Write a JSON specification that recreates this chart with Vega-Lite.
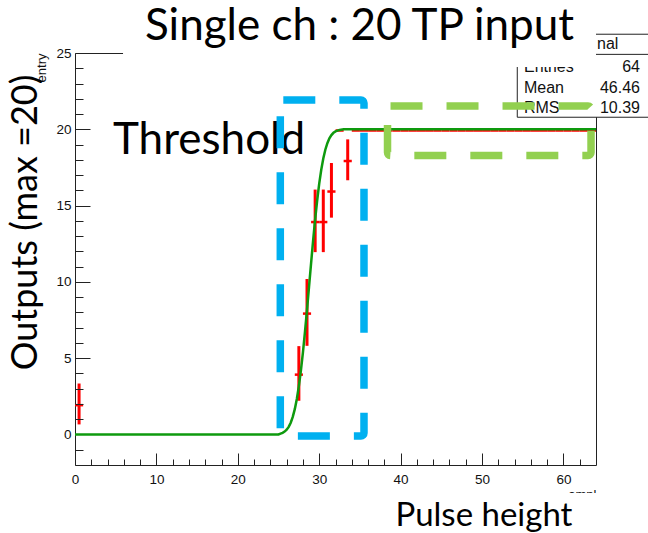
{
  "$schema": "https://vega.github.io/schema/vega-lite/v6.json",
  "width": 521,
  "height": 412,
  "autosize": {"type": "none"},
  "padding": {"left": 75, "top": 53, "right": 52, "bottom": 68},
  "background": "#ffffff",
  "view": {"stroke": null},
  "title": {"text": "Single ch : 20 TP input", "font": "Lato", "fontSize": 44, "fontWeight": "normal", "color": "#000000", "anchor": "middle", "frame": "group", "offset": -84, "baseline": "alphabetic", "dx": 24},
  "config": {
    "axis": {"labelFont": "Liberation Sans", "labelFontSize": 13.5, "labelColor": "#111111", "tickColor": "#222222", "domainColor": "#222222", "tickWidth": 1, "domainWidth": 1, "grid": false, "labelFlush": false, "labelOverlap": false, "titleColor": "#000000", "titleFontWeight": "normal"}
  },
  "resolve": {"axis": {"x": "independent", "y": "independent"}},
  "datasets": {
    "bins": [
      {"x": 0.5, "lo": 0, "hi": 1, "n": 2, "err": 1.34},
      {"x": 27.5, "lo": 27, "hi": 28, "n": 4, "err": 1.79},
      {"x": 28.5, "lo": 28, "hi": 29, "n": 8, "err": 2.19},
      {"x": 29.5, "lo": 29, "hi": 30, "n": 14, "err": 2.05},
      {"x": 30.5, "lo": 30, "hi": 31, "n": 14, "err": 2.05},
      {"x": 31.5, "lo": 31, "hi": 32, "n": 16, "err": 1.79},
      {"x": 32.5, "lo": 32, "hi": 33, "n": 20, "err": 0},
      {"x": 33.5, "lo": 33, "hi": 34, "n": 18, "err": 1.34},
      {"x": 34.5, "lo": 34, "hi": 35, "n": 20, "err": 0},
      {"x": 35.5, "lo": 35, "hi": 36, "n": 20, "err": 0},
      {"x": 36.5, "lo": 36, "hi": 37, "n": 20, "err": 0},
      {"x": 37.5, "lo": 37, "hi": 38, "n": 20, "err": 0},
      {"x": 38.5, "lo": 38, "hi": 39, "n": 20, "err": 0},
      {"x": 39.5, "lo": 39, "hi": 40, "n": 20, "err": 0},
      {"x": 40.5, "lo": 40, "hi": 41, "n": 20, "err": 0},
      {"x": 41.5, "lo": 41, "hi": 42, "n": 20, "err": 0},
      {"x": 42.5, "lo": 42, "hi": 43, "n": 20, "err": 0},
      {"x": 43.5, "lo": 43, "hi": 44, "n": 20, "err": 0},
      {"x": 44.5, "lo": 44, "hi": 45, "n": 20, "err": 0},
      {"x": 45.5, "lo": 45, "hi": 46, "n": 20, "err": 0},
      {"x": 46.5, "lo": 46, "hi": 47, "n": 20, "err": 0},
      {"x": 47.5, "lo": 47, "hi": 48, "n": 20, "err": 0},
      {"x": 48.5, "lo": 48, "hi": 49, "n": 20, "err": 0},
      {"x": 49.5, "lo": 49, "hi": 50, "n": 20, "err": 0},
      {"x": 50.5, "lo": 50, "hi": 51, "n": 20, "err": 0},
      {"x": 51.5, "lo": 51, "hi": 52, "n": 20, "err": 0},
      {"x": 52.5, "lo": 52, "hi": 53, "n": 20, "err": 0},
      {"x": 53.5, "lo": 53, "hi": 54, "n": 20, "err": 0},
      {"x": 54.5, "lo": 54, "hi": 55, "n": 20, "err": 0},
      {"x": 55.5, "lo": 55, "hi": 56, "n": 20, "err": 0},
      {"x": 56.5, "lo": 56, "hi": 57, "n": 20, "err": 0},
      {"x": 57.5, "lo": 57, "hi": 58, "n": 20, "err": 0},
      {"x": 58.5, "lo": 58, "hi": 59, "n": 20, "err": 0},
      {"x": 59.5, "lo": 59, "hi": 60, "n": 20, "err": 0},
      {"x": 60.5, "lo": 60, "hi": 61, "n": 20, "err": 0},
      {"x": 61.5, "lo": 61, "hi": 62, "n": 20, "err": 0},
      {"x": 62.5, "lo": 62, "hi": 63, "n": 20, "err": 0},
      {"x": 63.5, "lo": 63, "hi": 64, "n": 20, "err": 0}
    ],
    "fit": [
      {"x": 0, "y": 0}, {"x": 25, "y": 0}, {"x": 25.25, "y": 0.06}, {"x": 25.5, "y": 0.11},
      {"x": 25.75, "y": 0.19}, {"x": 26, "y": 0.31}, {"x": 26.25, "y": 0.5}, {"x": 26.5, "y": 0.77},
      {"x": 26.75, "y": 1.15}, {"x": 27, "y": 1.66}, {"x": 27.25, "y": 2.33}, {"x": 27.5, "y": 3.17},
      {"x": 27.75, "y": 4.19}, {"x": 28, "y": 5.38}, {"x": 28.25, "y": 6.72}, {"x": 28.5, "y": 8.17},
      {"x": 28.75, "y": 9.69}, {"x": 29, "y": 11.22}, {"x": 29.25, "y": 12.71}, {"x": 29.5, "y": 14.1},
      {"x": 29.75, "y": 15.35}, {"x": 30, "y": 16.44}, {"x": 30.25, "y": 17.35}, {"x": 30.5, "y": 18.09},
      {"x": 30.75, "y": 18.66}, {"x": 31, "y": 19.09}, {"x": 31.25, "y": 19.41}, {"x": 31.5, "y": 19.62},
      {"x": 31.75, "y": 19.77}, {"x": 32, "y": 19.86}, {"x": 32.5, "y": 19.96}, {"x": 33, "y": 20},
      {"x": 64, "y": 20}
    ],
    "statsbox": [{"x": 54.33, "x2": 75, "y": 20.79, "y2": 26.23, "yh": 24.91}],
    "statslabels": [
      {"t": "nal", "x": 64.12, "y": 25.24},
      {"t": "Entries", "x": 55.15, "y": 23.77},
      {"t": "Mean", "x": 55.15, "y": 22.4},
      {"t": "RMS", "x": 55.15, "y": 21.09}
    ],
    "statsvalues": [
      {"t": "64", "x": 69.4, "y": 23.77},
      {"t": "46.46", "x": 69.4, "y": 22.4},
      {"t": "10.39", "x": 69.4, "y": 21.09}
    ],
    "covers": [
      {"x": 5.9, "x2": 64.0, "y": 24.08, "y2": 28.47},
      {"x": 38.69, "x2": 75, "y": -7.5, "y2": -3.84}
    ],
    "notes": [{"t": "Threshold", "x": 4.67, "y": 18.38}],
    "boxes": [
      {"name": "threshold", "x": 25.22, "x2": 35.5, "y": -0.1, "y2": 21.92},
      {"name": "plateau", "x": 38.39, "x2": 63.39, "y": 18.28, "y2": 21.53}
    ]
  },
  "layer": [
    {
      "data": {"name": "bins"},
      "mark": {"type": "rule", "color": "#FF0000", "strokeWidth": 2.5, "yOffset": 1.2},
      "encoding": {
        "x": {"field": "lo", "type": "quantitative", "scale": {"domain": [0, 64], "nice": false, "zero": false},
          "axis": {"orient": "bottom", "values": [0, 10, 20, 30, 40, 50, 60], "format": "d", "tickSize": -12, "labelPadding": 19, "domain": true, "zindex": 0,
            "title": "ampl", "titleX": 521, "titleY": 33.5, "titleAlign": "right", "titleBaseline": "alphabetic", "titleFont": "Liberation Sans", "titleFontSize": 13, "titleColor": "#111111"}},
        "x2": {"field": "hi"},
        "y": {"field": "n", "type": "quantitative", "scale": {"domain": [-2, 25], "nice": false, "zero": false},
          "axis": {"orient": "left", "values": [0, 5, 10, 15, 20, 25], "format": "d", "tickSize": -15, "labelPadding": 19, "domain": true, "zindex": 0,
            "title": "entry", "titleAngle": 270, "titleX": -30, "titleY": 0, "titleAlign": "right", "titleBaseline": "alphabetic", "titleFont": "Liberation Sans", "titleFontSize": 13, "titleColor": "#111111"}}
      }
    },
    {
      "data": {"name": "bins"},
      "mark": {"type": "errorbar", "color": "#FF0000", "thickness": 3},
      "encoding": {
        "x": {"field": "x", "type": "quantitative", "scale": {"domain": [0, 64], "nice": false, "zero": false}, "axis": null},
        "y": {"field": "n", "type": "quantitative", "scale": {"domain": [-2, 25], "nice": false, "zero": false}, "axis": null},
        "yError": {"field": "err"}
      }
    },
    {
      "data": {"name": "fit"},
      "mark": {"type": "line", "color": "#0E9A0E", "strokeWidth": 2.5},
      "encoding": {
        "x": {"field": "x", "type": "quantitative", "scale": {"domain": [0, 64], "nice": false, "zero": false},
          "axis": {"orient": "bottom", "values": [2, 4, 6, 8, 12, 14, 16, 18, 22, 24, 26, 28, 32, 34, 36, 38, 42, 44, 46, 48, 52, 54, 56, 58, 62], "tickSize": -6, "labels": false, "domain": false, "zindex": 1,
            "title": "Pulse height", "titleX": 320, "titleY": 60, "titleAlign": "left", "titleBaseline": "alphabetic", "titleFont": "Lato", "titleFontSize": 33}},
        "y": {"field": "y", "type": "quantitative", "scale": {"domain": [-2, 25], "nice": false, "zero": false},
          "axis": {"orient": "left", "values": [-1, 1, 2, 3, 4, 6, 7, 8, 9, 11, 12, 13, 14, 16, 17, 18, 19, 21, 22, 23, 24], "tickSize": -8, "labels": false, "domain": false, "zindex": 1,
            "title": "Outputs (max =20)", "titleAngle": 270, "titleX": -39, "titleY": 169, "titleAlign": "center", "titleBaseline": "alphabetic", "titleFont": "Lato", "titleFontSize": 36}}
      }
    },
    {
      "data": {"name": "statsbox"},
      "mark": {"type": "rect", "fill": "#ffffff", "stroke": "#222222", "strokeWidth": 1},
      "encoding": {
        "x": {"field": "x", "type": "quantitative", "scale": {"domain": [0, 64], "nice": false, "zero": false},
          "axis": {"orient": "top", "ticks": false, "labels": false, "domain": true, "title": null, "zindex": 0}},
        "x2": {"field": "x2"},
        "y": {"field": "y", "type": "quantitative", "scale": {"domain": [-2, 25], "nice": false, "zero": false},
          "axis": {"orient": "right", "ticks": false, "labels": false, "domain": true, "title": null, "zindex": 0}},
        "y2": {"field": "y2"}
      }
    },
    {
      "data": {"name": "statsbox"},
      "mark": {"type": "rule", "color": "#222222", "strokeWidth": 1},
      "encoding": {
        "x": {"field": "x", "type": "quantitative", "scale": {"domain": [0, 64], "nice": false, "zero": false}, "axis": null},
        "x2": {"field": "x2"},
        "y": {"field": "yh", "type": "quantitative", "scale": {"domain": [-2, 25], "nice": false, "zero": false}, "axis": null}
      }
    },
    {
      "data": {"name": "statslabels"},
      "mark": {"type": "text", "align": "left", "baseline": "alphabetic", "font": "Liberation Sans", "fontSize": 16, "color": "#111111"},
      "encoding": {
        "x": {"field": "x", "type": "quantitative", "scale": {"domain": [0, 64], "nice": false, "zero": false}, "axis": null},
        "y": {"field": "y", "type": "quantitative", "scale": {"domain": [-2, 25], "nice": false, "zero": false}, "axis": null},
        "text": {"field": "t"}
      }
    },
    {
      "data": {"name": "statsvalues"},
      "mark": {"type": "text", "align": "right", "baseline": "alphabetic", "font": "Liberation Sans", "fontSize": 16, "color": "#111111"},
      "encoding": {
        "x": {"field": "x", "type": "quantitative", "scale": {"domain": [0, 64], "nice": false, "zero": false}, "axis": null},
        "y": {"field": "y", "type": "quantitative", "scale": {"domain": [-2, 25], "nice": false, "zero": false}, "axis": null},
        "text": {"field": "t"}
      }
    },
    {
      "data": {"name": "covers"},
      "mark": {"type": "rect", "fill": "#ffffff", "stroke": null},
      "encoding": {
        "x": {"field": "x", "type": "quantitative", "scale": {"domain": [0, 64], "nice": false, "zero": false}, "axis": null},
        "x2": {"field": "x2"},
        "y": {"field": "y", "type": "quantitative", "scale": {"domain": [-2, 25], "nice": false, "zero": false}, "axis": null},
        "y2": {"field": "y2"}
      }
    },
    {
      "data": {"name": "notes"},
      "mark": {"type": "text", "align": "left", "baseline": "alphabetic", "font": "Lato", "fontSize": 44, "color": "#000000"},
      "encoding": {
        "x": {"field": "x", "type": "quantitative", "scale": {"domain": [0, 64], "nice": false, "zero": false}, "axis": null},
        "y": {"field": "y", "type": "quantitative", "scale": {"domain": [-2, 25], "nice": false, "zero": false}, "axis": null},
        "text": {"field": "t"}
      }
    },
    {
      "data": {"name": "boxes"},
      "mark": {"type": "rect", "fill": null, "strokeWidth": 7.5, "strokeDash": [32, 24], "cornerRadius": 3, "strokeJoin": "round"},
      "encoding": {
        "x": {"field": "x", "type": "quantitative", "scale": {"domain": [0, 64], "nice": false, "zero": false}, "axis": null},
        "x2": {"field": "x2"},
        "y": {"field": "y", "type": "quantitative", "scale": {"domain": [-2, 25], "nice": false, "zero": false}, "axis": null},
        "y2": {"field": "y2"},
        "stroke": {"field": "name", "type": "nominal", "scale": {"domain": ["threshold", "plateau"], "range": ["#00B0F0", "#92D050"]}, "legend": null}
      }
    }
  ]
}
